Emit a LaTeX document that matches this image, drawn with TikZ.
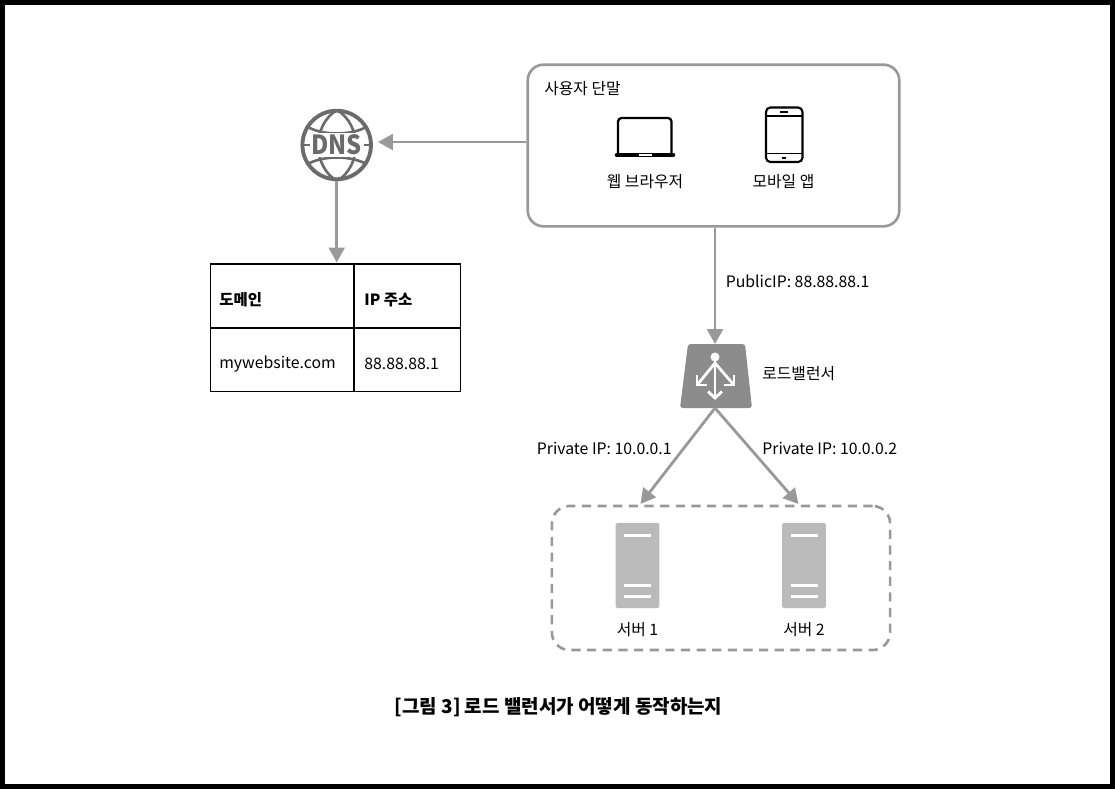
\documentclass[tikz,border=0pt]{standalone}
\usepackage{fontspec}
\setmainfont{Noto Sans CJK KR}
\usetikzlibrary{arrows.meta}
\definecolor{linegray}{gray}{0.6}
\definecolor{icongray}{gray}{0.42}
\definecolor{lbgray}{gray}{0.55}
\definecolor{servergray}{gray}{0.73}
\begin{document}
\begin{tikzpicture}[x=0.02cm, y=-0.02cm,
            lab/.style={inner sep=0pt, font=\fontsize{9}{11}\selectfont},
            cell/.style={draw=black, line width=0.6pt, anchor=north west, inner sep=0pt, outer sep=0pt},
            arr/.style={draw=linegray, line width=1.6pt, -{Triangle[length=8.5pt,width=9pt]}},
            lbline/.style={white, line width=1.6pt}]
            \useasboundingbox (0,0) rectangle (1115,789);
            \fill[black] (0,0) rectangle (1115,789);
            \fill[white] (5,5) rectangle (1110,784);

            % terminals box
            \node[draw=linegray, line width=1.5pt, rounded corners=9pt, minimum width=211.5pt, minimum height=92pt, inner sep=0pt] (terminal) at (713.5,145.5) {};
            \node[lab, anchor=west] (terminallab) at (544,89) {사용자 단말};

            % laptop
            \draw[black, line width=1.3pt, rounded corners=2pt] (618,154) -- (618,118) -- (671.5,118) -- (671.5,154);
            \draw[black, line width=2.6pt, line cap=round] (617,155) -- (673,155);
            \draw[white, line width=1.2pt] (639,155) -- (652,155);
            \node[lab] (browser) at (645,182) {웹 브라우저};

            % phone
            \draw[black, line width=1.2pt, rounded corners=2.5pt] (766,107.5) rectangle (802.5,162);
            \draw[black, line width=0.9pt] (766,116) -- (802.5,116);
            \draw[black, line width=0.9pt] (766,153.5) -- (802.5,153.5);
            \draw[black, line width=1pt] (780,112) -- (788,112);
            \draw[black, line width=1pt] (782,158) -- (786,158);
            \node[lab] (mobile) at (783.5,182) {모바일 앱};

            % dns
            \node[circle, draw=icongray, line width=2.2pt, minimum size=39pt, inner sep=0pt] (dns) at (336.7,145) {};
            \begin{scope}
                \clip (dns.center) circle (36);
                \draw[icongray, line width=1.5pt] (337,110) .. controls (312,125) and (312,166) .. (337,181);
                \draw[icongray, line width=1.5pt] (337,110) .. controls (362,125) and (362,166) .. (337,181);
                \draw[icongray, line width=1.5pt] (306,126) .. controls (322,136) and (352,136) .. (368,126);
                \draw[icongray, line width=1.5pt] (306,165) .. controls (322,155) and (352,155) .. (368,165);
                \draw[icongray, line width=1.5pt] (300,145) -- (374,145);
            \end{scope}
            \node[fill=white, inner sep=1pt, text=icongray, xscale=0.9, font=\fontsize{15}{16}\selectfont\bfseries] (dnslab) at (336.7,145) {DNS};

            % table
            \node[cell, minimum width=81.5pt, minimum height=36.3pt] (domain) at (210.3,264) {};
            \node[cell, minimum width=60.5pt, minimum height=36.3pt] (ip) at (354,264) {};
            \node[cell, minimum width=81.5pt, minimum height=36.3pt] (site) at (210.3,328) {};
            \node[cell, minimum width=60.5pt, minimum height=36.3pt] (addr) at (354,328) {};
            \node[lab, anchor=west, font=\fontsize{8.8}{11}\selectfont\bfseries] (domainlab) at (219,300) {도메인};
            \node[lab, anchor=west, font=\fontsize{8.8}{11}\selectfont\bfseries] (iplab) at (364,300) {IP 주소};
            \node[lab, anchor=west] (sitelab) at (219,364) {mywebsite.com};
            \node[lab, anchor=west] (addrlab) at (364,364) {88.88.88.1};

            % load balancer
            \fill[lbgray, rounded corners=1.5pt] (688,344) -- (745,344) -- (752,408) -- (680,408) -- cycle;
            \coordinate (lbtop) at (715,344);
            \coordinate (lbbot) at (715,408);
            \draw[lbline] (715,357) -- (715,397);
            \draw[lbline] (715,363) -- (698,384);
            \draw[lbline] (715,363) -- (733,384);
            \draw[lbline] (697,375) -- (697,385) -- (707,385);
            \draw[lbline] (734,375) -- (734,385) -- (724,385);
            \draw[lbline] (708,391.5) -- (715,398) -- (722,391.5);
            \fill[white] (715,357) circle (4.5);
            \node[lab, anchor=west] (lblab) at (762,374) {로드밸런서};

            % servers
            \node[draw=linegray, dash pattern=on 5.2pt off 3.7pt, line width=1.5pt, rounded corners=10pt, minimum width=192.5pt, minimum height=82pt, inner sep=0pt] (pool) at (721,578) {};
            \node[fill=servergray, rounded corners=1pt, minimum width=25pt, minimum height=48.5pt, inner sep=0pt] (s1) at (637.5,565.5) {};
            \node[fill=servergray, rounded corners=1pt, minimum width=25pt, minimum height=48.5pt, inner sep=0pt] (s2) at (804,565.5) {};
            \foreach \n/\xc in {1/637.5, 2/804} {
                \foreach \yc in {535.5, 585.5, 596.5}
                    \draw[white, line width=1.8pt] (\xc-13.5,\yc) -- (\xc+13.5,\yc);
            }
            \node[lab] (s1lab) at (637.5,630) {서버 1};
            \node[lab] (s2lab) at (804,630) {서버 2};

            % connectors
            \coordinate (dnsin) at (378,142);
            \coordinate (tableup) at (336.7,262.5);
            \coordinate (p1) at (640.5,504);
            \coordinate (p2) at (798.5,504);
            \draw[arr] (terminal.west |- dnsin) -- (dnsin);
            \draw[arr] (dns) -- (tableup);
            \draw[arr] (terminal.south -| lbtop) -- (lbtop);
            \draw[arr] (lbbot) -- (p1);
            \draw[arr] (lbbot) -- (p2);

            \node[lab, anchor=west] (publab) at (725.5,281) {PublicIP: 88.88.88.1};
            \node[lab, anchor=east] (priv1) at (672,448) {Private IP: 10.0.0.1};
            \node[lab, anchor=west] (priv2) at (762,448) {Private IP: 10.0.0.2};

            \node[font=\fontsize{10.8}{12}\selectfont\bfseries] (caption) at (558.5,707) {[그림 3] 로드 밸런서가 어떻게 동작하는지};
        \end{tikzpicture}
\end{document}
